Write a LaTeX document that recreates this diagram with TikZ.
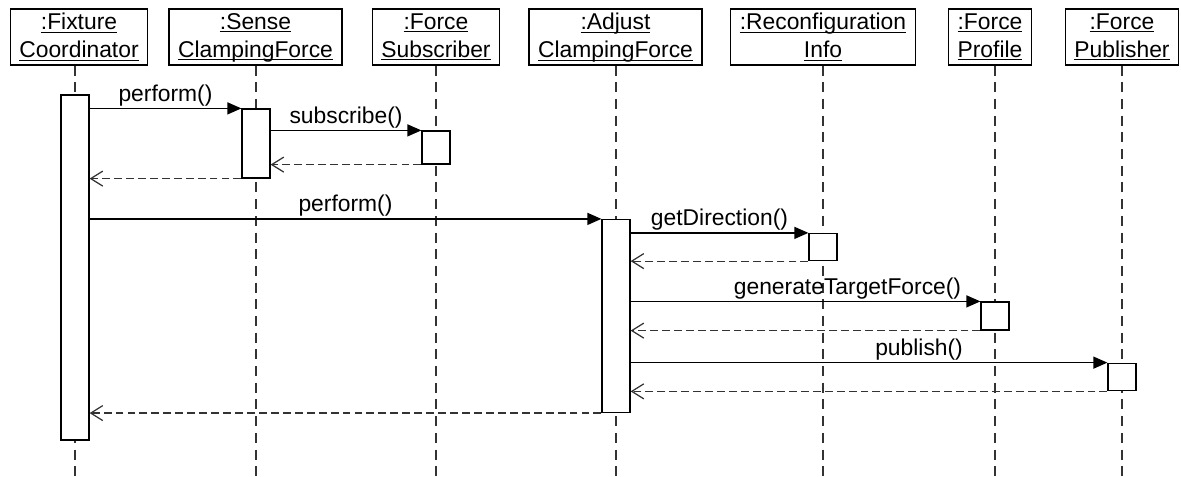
\documentclass[tikz,border=0pt]{standalone}
\usepackage{fontspec}
\setmainfont{Liberation Sans}
\usetikzlibrary{arrows.meta}
\newcommand{\objname}[1]{\underline{\raisebox{0pt}[\height][0pt]{#1}}}

\begin{document}
\begin{tikzpicture}[
    x=0.02cm, y=-0.02cm, line width=0.7pt,
    obj/.style={draw, align=center, minimum height=1.12cm, inner xsep=0.18cm,
                inner ysep=0pt, font=\fontsize{13}{15.9}\selectfont},
    bar/.style={draw, fill=white, minimum width=0.56cm, inner sep=0pt},
    life/.style={black!80, dash pattern=on 5.7pt off 3.8pt},
    call/.style={-{Triangle[length=0.28cm, width=0.24cm]}},
    ret/.style={black!80, dash pattern=on 4.5pt off 2.3pt,
                -{Straight Barb[length=0.24cm, width=0.3cm]}},
    lbl/.style={above, inner sep=1pt, font=\fontsize{13}{15.9}\selectfont}
  ]
  \useasboundingbox (0,0) rectangle (1181,477);

  % Objects
  \foreach \n/\x/\a/\b in {fc/79/:Fixture/Coordinator,
                           sc/255.5/:Sense/ClampingForce,
                           sb/436/:Force/Subscriber,
                           ad/615.5/:Adjust/ClampingForce,
                           rc/823/:Reconfiguration/Info,
                           pf/990/:Force/Profile,
                           pb/1122/:Force/Publisher} {
    \node[obj] (\n) at (\x, 37) {\objname{\a}\\\objname{\b}};
  }

  % Lifelines
  \foreach \n/\x in {fc/75, sc/256, sb/436, ad/616, rc/823, pf/995, pb/1122} {
    \coordinate (\n end) at (\x, 477);
    \draw[life] (\n end |- \n.south) -- (\n end);
  }

  % Activations
  \node[bar, minimum height=6.9cm]  (fcA) at (75, 267.5) {};
  \node[bar, minimum height=1.38cm] (scA) at (256, 143.5) {};
  \node[bar, minimum height=0.66cm] (sbA) at (436, 147.5) {};
  \node[bar, minimum height=3.86cm] (adA) at (616, 316) {};
  \node[bar, minimum height=0.54cm] (rcA) at (823, 247) {};
  \node[bar, minimum height=0.56cm] (pfA) at (995, 316) {};
  \node[bar, minimum height=0.55cm] (pbA) at (1122, 377) {};

  % Sense clamping force
  \draw[call] (fcA.east |- scA.north) -- node[lbl] {perform()} (scA.north west);
  \draw[call] (scA.east |- sbA.north) -- node[lbl] {subscribe()} (sbA.north west);
  \draw[ret] (sbA.south west) -- (scA.east |- sbA.south);
  \draw[ret] (scA.south west) -- (fcA.east |- scA.south);

  % Adjust clamping force
  \draw[call] (fcA.east |- adA.north) -- node[lbl] {perform()} (adA.north west);
  \draw[call] (adA.east |- rcA.north) -- node[lbl] {getDirection()} (rcA.north west);
  \draw[ret] (rcA.south west) -- (adA.east |- rcA.south);
  \draw[call] (adA.east |- pfA.north) -- node[lbl, pos=.62] {generateTargetForce()} (pfA.north west);
  \draw[ret] (pfA.south west) -- (adA.east |- pfA.south);
  \draw[call] (adA.east |- pbA.north) -- node[lbl, pos=.605] {publish()} (pbA.north west);
  \draw[ret] (pbA.south west) -- (adA.east |- pbA.south);
  \draw[ret] (adA.south west) -- (fcA.east |- adA.south);
\end{tikzpicture}
\end{document}
